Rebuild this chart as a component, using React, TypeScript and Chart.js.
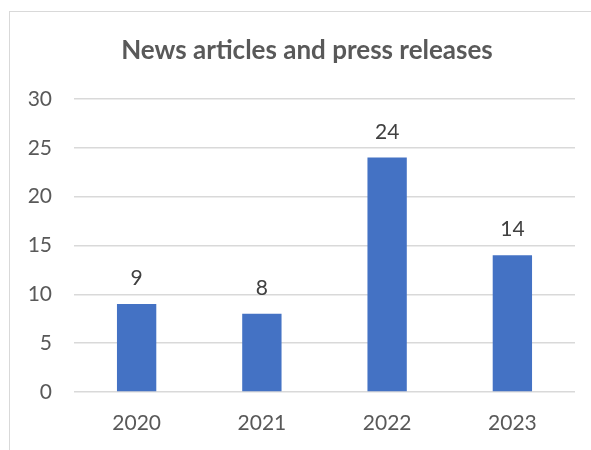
import { useEffect, useRef } from "react";
import { Chart, registerables } from "chart.js";

Chart.register(...registerables);

const categories = ["2020", "2021", "2022", "2023"];
const values = [9, 8, 24, 14];
const yMin = 0;
const yMax = 30;
const yStep = 5;
const titleText = "News articles and press releases";

const FONT = "Lato, 'Open Sans', sans-serif";

const dataLabels = {
  id: "dataLabels",
  afterDatasetsDraw(chart: any) {
    const ctx = chart.ctx;
    const meta = chart.getDatasetMeta(0);
    ctx.save();
    ctx.font = `21px ${FONT}`;
    ctx.fillStyle = "#404040";
    ctx.textAlign = "center";
    ctx.textBaseline = "alphabetic";
    meta.data.forEach((bar: any, i: number) => {
      ctx.fillText(String(values[i]), bar.x, bar.y - 19);
    });
    ctx.restore();
  },
};

const chartTitle = {
  id: "chartTitle",
  afterDraw(chart: any) {
    const ctx = chart.ctx;
    ctx.save();
    ctx.font = `bold 26px ${FONT}`;
    ctx.fillStyle = "#595959";
    ctx.textAlign = "center";
    ctx.textBaseline = "alphabetic";
    ctx.fillText(titleText, 307, 59);
    ctx.restore();
  },
};

export default function App() {
  const ref = useRef<HTMLCanvasElement | null>(null);
  useEffect(() => {
    if (!ref.current) return;
    const chart = new Chart(ref.current, {
      type: "bar",
      data: {
        labels: categories,
        datasets: [
          {
            data: values,
            backgroundColor: "#4472c4",
            borderWidth: 0,
            categoryPercentage: 1,
            barPercentage: 0.314,
          },
        ],
      },
      options: {
        responsive: false,
        animation: false,
        layout: { padding: { left: 0, right: 16, top: 99, bottom: 0 } },
        plugins: {
          legend: { display: false },
          tooltip: { enabled: false },
          title: { display: false },
        },
        scales: {
          x: {
            grid: { display: false, drawTicks: false },
            border: { display: false },
            ticks: {
              color: "#595959",
              font: { family: FONT, size: 21 },
              padding: 19,
            },
            afterFit: (s: any) => {
              s.height = 58;
            },
          },
          y: {
            min: yMin,
            max: yMax,
            grid: { color: "#d9d9d9", lineWidth: 1.5, drawTicks: false },
            border: { display: false },
            ticks: {
              stepSize: yStep,
              color: "#595959",
              font: { family: FONT, size: 21 },
              padding: 22,
            },
            afterFit: (s: any) => {
              s.width = 74;
            },
          },
        },
      },
      plugins: [dataLabels, chartTitle],
    });
    return () => chart.destroy();
  }, []);
  return (
    <div
      style={{
        position: "fixed",
        left: 0,
        top: 0,
        width: 591,
        height: 450,
        overflow: "hidden",
        background: "#fff",
      }}
    >
      <div
        style={{
          position: "absolute",
          left: 9,
          top: 11,
          width: 600,
          height: 460,
          border: "1px solid #d9d9d9",
        }}
      />
      <canvas
        ref={ref}
        width={591}
        height={450}
        style={{ position: "absolute", left: 0, top: 0 }}
      />
    </div>
  );
}
